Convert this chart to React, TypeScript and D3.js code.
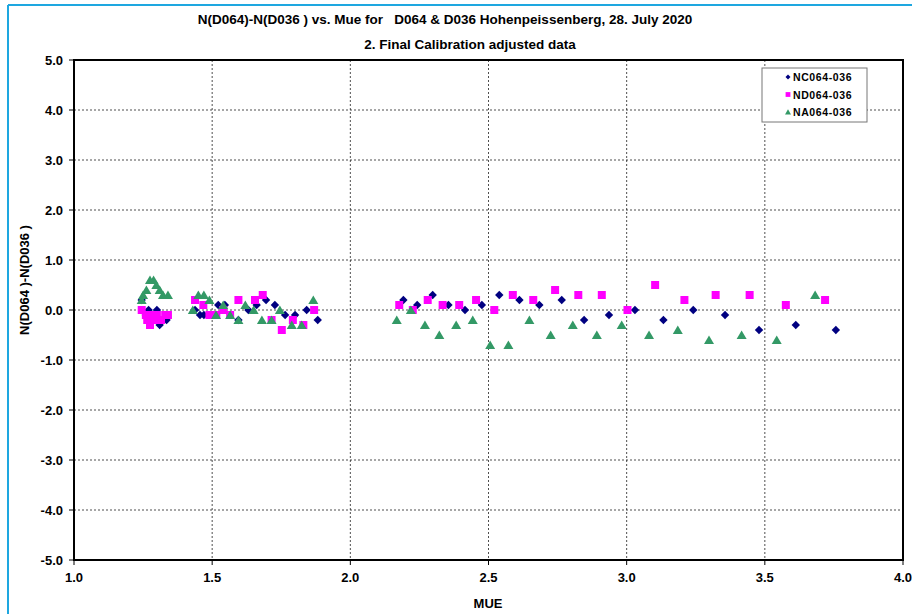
import React from "react";
import * as d3 from "d3";

// N(D064)-N(D036) differences vs. MUE
const ncMue = [1.245, 1.26, 1.27, 1.285, 1.3, 1.31, 1.32, 1.335,
  1.438, 1.456, 1.47, 1.522, 1.546, 1.595, 1.631, 1.661, 1.695, 1.727, 1.764, 1.8, 1.842, 1.882,
  2.192, 2.242, 2.298, 2.355, 2.415, 2.476, 2.539, 2.612, 2.684, 2.765, 2.846, 2.936, 3.03, 3.133,
  3.241, 3.356, 3.479, 3.612, 3.757];
const ncVal = [0.2, -0.1, 0.0, -0.1, 0.0, -0.3, -0.2, -0.2,
  0.0, -0.1, -0.1, 0.1, 0.1, -0.2, 0.0, 0.1, 0.2, 0.1, -0.1, -0.1, 0.0, -0.2,
  0.2, 0.1, 0.3, 0.1, 0.0, 0.1, 0.3, 0.2, 0.1, 0.2, -0.2, -0.1, 0.0, -0.2,
  0.0, -0.1, -0.4, -0.3, -0.4];

const ndMue = [1.245, 1.26, 1.265, 1.275, 1.285, 1.29, 1.3, 1.315, 1.33, 1.34,
  1.438, 1.468, 1.49, 1.515, 1.54, 1.565, 1.595, 1.655, 1.683, 1.715, 1.752, 1.792, 1.83, 1.869,
  2.177, 2.226, 2.28, 2.334, 2.394, 2.455, 2.521, 2.588, 2.662, 2.741, 2.825, 2.91, 3.003, 3.103,
  3.209, 3.322, 3.445, 3.576, 3.718];
const ndVal = [0.0, -0.1, -0.2, -0.3, -0.1, -0.2, -0.1, -0.2, -0.1, -0.1,
  0.2, 0.1, -0.1, -0.1, 0.0, -0.1, 0.2, 0.2, 0.3, -0.2, -0.4, -0.2, -0.3, 0.0,
  0.1, 0.0, 0.2, 0.1, 0.1, 0.2, 0.0, 0.3, 0.2, 0.4, 0.3, 0.3, 0.0, 0.5,
  0.2, 0.3, 0.3, 0.1, 0.2];

const naMue = [1.245, 1.25, 1.262, 1.275, 1.288, 1.298, 1.31, 1.322, 1.34,
  1.43, 1.45, 1.47, 1.49, 1.514, 1.54, 1.565, 1.595, 1.62, 1.65, 1.68, 1.715, 1.745, 1.788, 1.824, 1.866,
  2.168, 2.219, 2.27, 2.322, 2.383, 2.443, 2.506, 2.572, 2.648, 2.725, 2.805, 2.892, 2.982, 3.081,
  3.185, 3.298, 3.416, 3.543, 3.682];
const naVal = [0.2, 0.3, 0.4, 0.6, 0.6, 0.5, 0.4, 0.3, 0.3,
  0.0, 0.3, 0.3, 0.2, -0.1, 0.1, -0.1, -0.2, 0.1, 0.0, -0.2, -0.2, 0.0, -0.3, -0.3, 0.2,
  -0.2, 0.0, -0.3, -0.5, -0.3, -0.2, -0.7, -0.7, -0.2, -0.5, -0.3, -0.5, -0.3, -0.5,
  -0.4, -0.6, -0.5, -0.6, 0.3];

const xTicks = [1.0, 1.5, 2.0, 2.5, 3.0, 3.5, 4.0];
const yTicks = [5, 4, 3, 2, 1, 0, -1, -2, -3, -4, -5];

const diamond = "M0,-4.2L4.2,0L0,4.2L-4.2,0Z";
const square = "M-4,-4H4V4H-4Z";
const triangle = "M0,-4.6L5,4L-5,4Z";

const series = [
  { name: "NC064-036", mue: ncMue, val: ncVal, color: "#000080", shape: diamond },
  { name: "ND064-036", mue: ndMue, val: ndVal, color: "#ff00ff", shape: square },
  { name: "NA064-036", mue: naMue, val: naVal, color: "#339966", shape: triangle },
];

const font = "'Liberation Sans', Arial, sans-serif";

export default function App() {
  const left = 74, right = 903, top = 60, bottom = 560;
  const x = d3.scaleLinear().domain([1, 4]).range([left, right]);
  const y = d3.scaleLinear().domain([-5, 5]).range([bottom, top]);

  return (
    <svg width={912} height={614}
      style={{ position: "absolute", left: 0, top: 0, background: "#fff", fontFamily: font }}>
      {/* outer frame */}
      <line x1={8} x2={912} y1={5} y2={5} stroke="#1ea7e0" strokeWidth={2} />
      <line x1={8} x2={8} y1={5} y2={614} stroke="#1ea7e0" strokeWidth={2} />

      <text x={445} y={24} textAnchor="middle" fontSize={13.5} fontWeight="bold" style={{ whiteSpace: "pre" }}>
        {"N(D064)-N(D036 ) vs. Mue for   D064 & D036 Hohenpeissenberg, 28. July 2020"}
      </text>
      <text x={470} y={49} textAnchor="middle" fontSize={13.5} fontWeight="bold">
        2. Final Calibration adjusted data
      </text>

      {/* grid */}
      {yTicks.filter(t => t !== 5 && t !== -5).map(t => (
        <line key={"gy" + t} x1={left} x2={right} y1={y(t)} y2={y(t)}
          stroke="#222" strokeWidth={0.8} strokeDasharray="2,2" />
      ))}
      {xTicks.filter(t => t !== 1 && t !== 4).map(t => (
        <line key={"gx" + t} x1={x(t)} x2={x(t)} y1={top} y2={bottom}
          stroke="#222" strokeWidth={0.8} strokeDasharray="2,2" />
      ))}

      {/* frame + ticks */}
      <rect x={left} y={top} width={right - left} height={bottom - top} fill="none" stroke="#000" strokeWidth={2} />
      {yTicks.map(t => (
        <g key={"ty" + t}>
          <line x1={left - 5} x2={left} y1={y(t)} y2={y(t)} stroke="#000" strokeWidth={1} />
          <text x={left - 11} y={y(t) + 4.5} textAnchor="end" fontSize={13} fontWeight="bold">{t.toFixed(1)}</text>
        </g>
      ))}
      {xTicks.map(t => (
        <g key={"tx" + t}>
          <line x1={x(t)} x2={x(t)} y1={bottom} y2={bottom + 5} stroke="#000" strokeWidth={1} />
          <text x={x(t)} y={582} textAnchor="middle" fontSize={13} fontWeight="bold">{t.toFixed(1)}</text>
        </g>
      ))}

      <text x={488} y={608} textAnchor="middle" fontSize={13} fontWeight="bold">MUE</text>
      <text transform="translate(29,280) rotate(-90)" textAnchor="middle" fontSize={13} fontWeight="bold">
        N(D064 )-N(D036 )
      </text>

      {/* points */}
      {series.map(s => (
        <g key={s.name} fill={s.color}>
          {s.mue.map((m, i) => (
            <path key={i} d={s.shape} transform={`translate(${x(m)},${y(s.val[i])})`} />
          ))}
        </g>
      ))}

      {/* legend */}
      <rect x={762} y={68} width={105} height={54} fill="#fff" stroke="#777" strokeWidth={1} />
      {series.map((s, i) => (
        <g key={"lg" + s.name} transform={`translate(788,${77 + i * 17.5})`}>
          <path d={s.shape} fill={s.color} transform="scale(0.6)" />
          <text x={5} y={4} fontSize={10.5} fontWeight="bold" letterSpacing={0.6}>{s.name}</text>
        </g>
      ))}
    </svg>
  );
}
